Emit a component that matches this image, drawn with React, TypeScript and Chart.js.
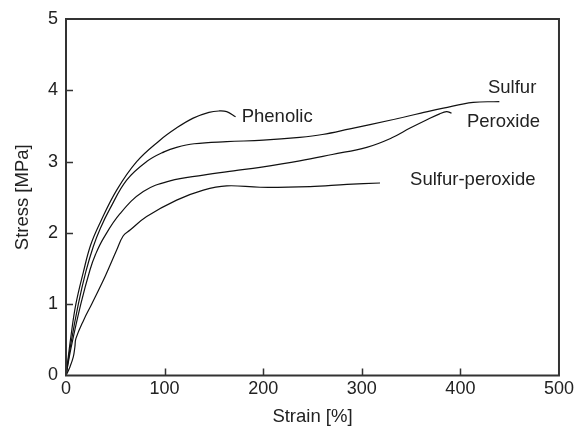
import React, { useEffect, useRef } from "react";
import { Chart, registerables } from "chart.js";

Chart.register(...registerables);

const phenolicX = [0, 5, 10, 17.6, 25, 34.5, 51.4, 71.7, 95.3, 112, 129, 145, 155, 163, 172];
const phenolicY = [0, 0.55, 1.0, 1.45, 1.83, 2.14, 2.6, 3.0, 3.3, 3.47, 3.61, 3.69, 3.71, 3.7, 3.63];

const sulfurX = [0, 5, 12.5, 20, 27.7, 35, 44.6, 61.5, 81.8, 100, 112.2, 130, 163, 200, 237, 260, 288, 328.6, 360, 382.7, 413, 439.5];
const sulfurY = [0, 0.45, 1.0, 1.45, 1.81, 2.07, 2.34, 2.74, 3.0, 3.14, 3.2, 3.25, 3.28, 3.3, 3.34, 3.38, 3.46, 3.58, 3.68, 3.75, 3.83, 3.84];

const peroxideX = [0, 5, 15, 24.3, 30, 37.8, 54.8, 78.4, 105.5, 139.3, 170, 196.8, 237, 270, 305, 330, 349, 365, 379, 386, 391];
const peroxideY = [0, 0.38, 1.0, 1.48, 1.7, 1.92, 2.27, 2.58, 2.73, 2.81, 2.87, 2.92, 3.01, 3.1, 3.2, 3.33, 3.47, 3.58, 3.67, 3.7, 3.68];

const sulfurPeroxideX = [0, 4, 7.4, 9, 10.1, 18, 26, 40, 51.4, 58.1, 65, 81.8, 112.2, 139.3, 163, 196.8, 247.5, 285, 318.5];
const sulfurPeroxideY = [0, 0.12, 0.26, 0.4, 0.52, 0.78, 1.0, 1.4, 1.76, 1.96, 2.04, 2.23, 2.46, 2.6, 2.66, 2.64, 2.65, 2.68, 2.7];

const labelTexts = ["Phenolic", "Sulfur", "Peroxide", "Sulfur-peroxide"];
const labelX = [178.2, 428, 406.7, 349];
const labelY = [3.63, 4.03, 3.56, 2.74];

const xTicks = [0, 100, 200, 300, 400, 500];
const yTicks = [0, 1, 2, 3, 4, 5];

const FONT = "'Liberation Sans', Arial, sans-serif";
const TEXT = "#222";

function pts(xs: number[], ys: number[]) {
  return xs.map((x, i) => ({ x, y: ys[i] }));
}

export default function App() {
  const ref = useRef<HTMLCanvasElement | null>(null);
  useEffect(() => {
    if (!ref.current) return;
    const ds = (xs: number[], ys: number[], label: string) => ({
      label,
      data: pts(xs, ys),
      borderColor: "#111",
      borderWidth: 1.2,
      pointRadius: 0,
      fill: false,
      tension: 0.4,
    });
    const framePlugin = {
      id: "frame",
      afterDraw(chart: any) {
        const { ctx, chartArea, scales } = chart;
        ctx.save();
        ctx.strokeStyle = "#333";
        ctx.lineWidth = 1.5;
        ctx.beginPath();
        xTicks.slice(1, -1).forEach((v) => {
          const px = Math.round(scales.x.getPixelForValue(v)) + 0.5;
          ctx.moveTo(px, chartArea.bottom);
          ctx.lineTo(px, chartArea.bottom - 7);
        });
        yTicks.slice(1, -1).forEach((v) => {
          const py = Math.round(scales.y.getPixelForValue(v)) + 0.5;
          ctx.moveTo(chartArea.left, py);
          ctx.lineTo(chartArea.left + 7, py);
        });
        ctx.stroke();
        ctx.lineWidth = 2;
        ctx.strokeRect(chartArea.left, chartArea.top, chartArea.right - chartArea.left, chartArea.bottom - chartArea.top);
        ctx.fillStyle = TEXT;
        ctx.font = `18.5px ${FONT}`;
        ctx.textAlign = "left";
        ctx.textBaseline = "middle";
        labelTexts.forEach((t, i) => {
          ctx.fillText(t, scales.x.getPixelForValue(labelX[i]), scales.y.getPixelForValue(labelY[i]));
        });
        ctx.restore();
      },
    };
    const chart = new Chart(ref.current, {
      type: "line",
      data: {
        datasets: [
          ds(phenolicX, phenolicY, labelTexts[0]),
          ds(sulfurX, sulfurY, labelTexts[1]),
          ds(peroxideX, peroxideY, labelTexts[2]),
          ds(sulfurPeroxideX, sulfurPeroxideY, labelTexts[3]),
        ],
      },
      options: {
        responsive: false,
        animation: false,
        layout: { padding: { top: 19, right: 17.5, left: 0, bottom: 0 } },
        plugins: { legend: { display: false }, tooltip: { enabled: false } },
        scales: {
          x: {
            type: "linear",
            min: 0,
            max: 500,
            afterFit: (s: any) => { s.height = 52.5; },
            afterBuildTicks: (s: any) => { s.ticks = xTicks.map((v) => ({ value: v })); },
            grid: { display: false, drawTicks: false },
            border: { display: false },
            ticks: { padding: 3, color: TEXT, font: { family: FONT, size: 18 }, maxRotation: 0 },
            title: { display: true, text: "Strain [%]", color: TEXT, font: { family: FONT, size: 18.5 }, padding: { top: 0, bottom: 0 } },
          },
          y: {
            type: "linear",
            min: 0,
            max: 5,
            afterFit: (s: any) => { s.width = 66; },
            afterBuildTicks: (s: any) => { s.ticks = yTicks.map((v) => ({ value: v })); },
            grid: { display: false, drawTicks: false },
            border: { display: false },
            ticks: { padding: 8, color: TEXT, font: { family: FONT, size: 18 } },
            title: { display: true, text: "Stress [MPa]", color: TEXT, font: { family: FONT, size: 18.5 }, padding: { top: 12, bottom: 0 } },
          },
        },
      },
      plugins: [framePlugin],
    } as any);
    return () => chart.destroy();
  }, []);
  return (
    <div style={{ position: "absolute", left: 0, top: 0, width: 577, height: 428, background: "#fff" }}>
      <canvas ref={ref} width={577} height={428} />
    </div>
  );
}
